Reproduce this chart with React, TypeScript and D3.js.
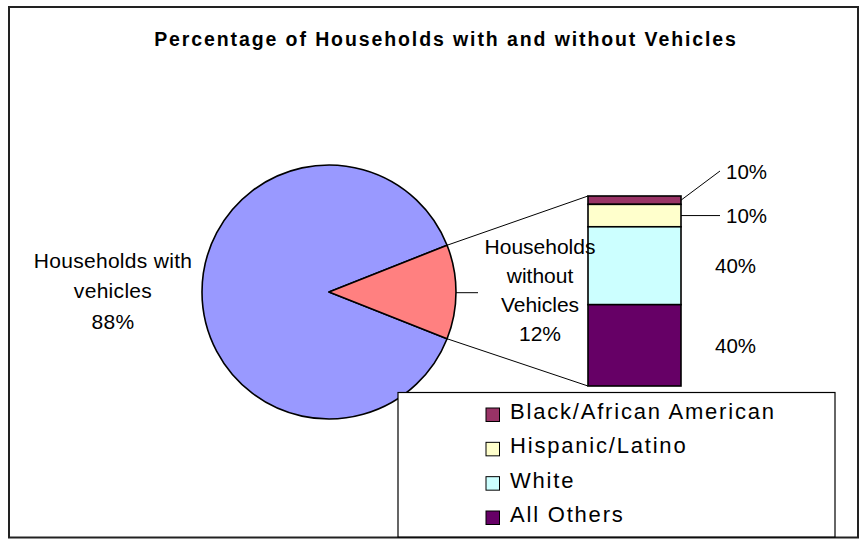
import React from "react";
import * as d3 from "d3";

const TITLE = "Percentage of Households with and without Vehicles";
const pieCategories = ["Households with vehicles", "Households without Vehicles"];
const pieValues = [88, 12];
const pieLabelLines = [
  ["Households with", "vehicles", "88%"],
  ["Households", "without", "Vehicles", "12%"],
];
const pieColors = ["#9999FF", "#FF8080"];

const barCategories = ["Black/African American", "Hispanic/Latino", "White", "All Others"];
const barValues = [4.4, 11.8, 41.0, 42.8];
const barLabels = ["10%", "10%", "40%", "40%"];
const barColors = ["#993366", "#FFFFCC", "#CCFFFF", "#660066"];

const W = 867;
const H = 552;
const FONT = "'Liberation Sans', Arial, Helvetica, sans-serif";

export default function App() {
  const cx = 329;
  const cy = 292;
  const r = 127;

  const total = d3.sum(pieValues);
  const half = (pieValues[1] / total) * Math.PI;
  const start = Math.PI / 2 + half;
  const pie = d3
    .pie<number>()
    .sort(null)
    .value((d) => d)
    .startAngle(start)
    .endAngle(start + 2 * Math.PI);
  const arcs = pie(pieValues);
  const arcGen = d3.arc<d3.PieArcDatum<number>>().innerRadius(0).outerRadius(r);

  const pt = (a: number) => [cx + r * Math.sin(a), cy - r * Math.cos(a)];
  const small = arcs[1];
  const pA = pt(small.endAngle - 2 * Math.PI);
  const pB = pt(small.startAngle);
  const upper = pA[1] < pB[1] ? pA : pB;
  const lower = pA[1] < pB[1] ? pB : pA;

  const barX = 588;
  const barW = 93;
  const barTop = 196;
  const barBottom = 386;
  const y = d3.scaleLinear().domain([0, d3.sum(barValues)]).range([barBottom, barTop]);
  const segs: { i: number; y0: number; y1: number }[] = [];
  let acc = 0;
  for (let i = barValues.length - 1; i >= 0; i--) {
    segs.push({ i, y0: y(acc), y1: y(acc + barValues[i]) });
    acc += barValues[i];
  }
  segs.sort((a, b) => a.i - b.i);

  const legX = 398;
  const legY = 392.5;
  const legW = 437;
  const legH = 144.5;
  const rowY = d3.scalePoint<string>().domain(barCategories).range([419, 522]);

  return (
    <svg
      width={W}
      height={H}
      style={{ position: "absolute", left: 0, top: 0, background: "#fff" }}
      fontFamily={FONT}
    >
      <rect x={0} y={0} width={W} height={H} fill="#fff" />
      <rect x={9} y={7} width={849} height={530.5} fill="#fff" stroke="#222" strokeWidth={2} />
      <text
        x={446}
        y={45.7}
        textAnchor="middle"
        fontWeight="bold"
        fontSize={19.5}
        letterSpacing={1.9}
        fill="#000"
      >
        {TITLE}
      </text>

      <g transform={`translate(${cx},${cy})`}>
        {arcs.map((a, i) => (
          <path
            key={pieCategories[i]}
            d={arcGen(a) || ""}
            fill={pieColors[i]}
            stroke="#000"
            strokeWidth={1.6}
            strokeLinejoin="round"
          />
        ))}
      </g>

      <line x1={upper[0]} y1={upper[1]} x2={barX} y2={barTop} stroke="#000" strokeWidth={1} />
      <line x1={lower[0]} y1={lower[1]} x2={barX} y2={barBottom} stroke="#000" strokeWidth={1} />

      {segs.map((s) => (
        <rect
          key={barCategories[s.i]}
          x={barX}
          y={s.y1}
          width={barW}
          height={s.y0 - s.y1}
          fill={barColors[s.i]}
          stroke="#000"
          strokeWidth={1.6}
        />
      ))}

      <g fontSize={21} fill="#000" textAnchor="middle">
        {pieLabelLines[0].map((t, k) => (
          <text key={t} x={113} y={267.5 + k * 30.8} letterSpacing={0.3}>
            {t}
          </text>
        ))}
        {pieLabelLines[1].map((t, k) => (
          <text key={t} x={540} y={254 + k * 29.1}>
            {t}
          </text>
        ))}
      </g>
      <line x1={cx + r} y1={cy + 0.7} x2={478} y2={cy + 0.7} stroke="#000" strokeWidth={1} />

      <g fontSize={20.5} fill="#000">
        {segs.map((s) => {
          const mid = (s.y0 + s.y1) / 2;
          if (s.i === 0) {
            return (
              <g key={s.i}>
                <line x1={barX + barW} y1={mid} x2={720} y2={171} stroke="#000" strokeWidth={1} />
                <text x={726} y={178.5}>{barLabels[s.i]}</text>
              </g>
            );
          }
          if (s.i === 1) {
            return (
              <g key={s.i}>
                <line x1={barX + barW} y1={mid} x2={720} y2={mid} stroke="#000" strokeWidth={1} />
                <text x={726} y={mid + 7.5}>{barLabels[s.i]}</text>
              </g>
            );
          }
          return (
            <text key={s.i} x={715} y={mid + 7.5}>
              {barLabels[s.i]}
            </text>
          );
        })}
      </g>

      <rect x={legX} y={legY} width={legW} height={legH} fill="#fff" stroke="#000" strokeWidth={1.2} />
      <g fontSize={22} fill="#000" letterSpacing={1.8}>
        {barCategories.map((c, i) => {
          const by = rowY(c) as number;
          return (
            <g key={c}>
              <rect
                x={486}
                y={by - 11}
                width={13.5}
                height={13.5}
                fill={barColors[i]}
                stroke="#000"
                strokeWidth={1}
              />
              <text x={510} y={by}>
                {c}
              </text>
            </g>
          );
        })}
      </g>
    </svg>
  );
}
